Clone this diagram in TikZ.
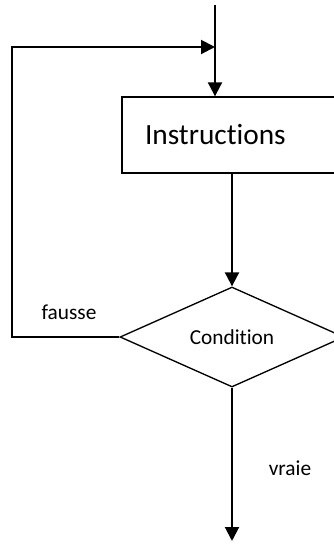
\documentclass[tikz,border=0pt]{standalone}
\usepackage{fontspec}
\setmainfont[Ligatures=NoCommon]{Carlito}
\usetikzlibrary{arrows.meta, shapes.geometric}
\tikzset{
  fleche/.style={-{Triangle[length=10.5pt, width=10.5pt]}, line width=1.5pt},
  trait/.style={line width=1pt},
}

\begin{document}
\begin{tikzpicture}[x=0.75pt, y=-0.75pt, every node/.style={font=\fontsize{16}{19}\selectfont}]
\useasboundingbox (0,0) rectangle (334,544);
\clip (0,0) rectangle (334,544);
\node[draw, trait, minimum width=163.5pt, minimum height=57pt, text width=129pt, align=left, inner xsep=15.75pt, font=\fontsize{22}{26}\selectfont] (instr) at (231,135) {Instructions\\[6pt]};
\node[draw, trait, diamond, minimum width=168pt, minimum height=75pt, inner sep=0pt] (cond) at (232,337) {Condition};
\coordinate (entree) at (215,5);
\coordinate (jonction) at (215,47);
\coordinate (sortie) at (232,541);
\node (fausse) at (69,312) {fausse};
\node (vraie) at (290,468) {vraie};
\draw[fleche] (entree) -- (entree |- instr.north);
\draw[fleche] (instr.south -| cond.north) -- (cond.north);
\draw[fleche] (cond.south) -- (sortie);
% retour vers le debut de la boucle
\draw[fleche] (cond.west) -- (12,337) |- (jonction);
\end{tikzpicture}
\end{document}
